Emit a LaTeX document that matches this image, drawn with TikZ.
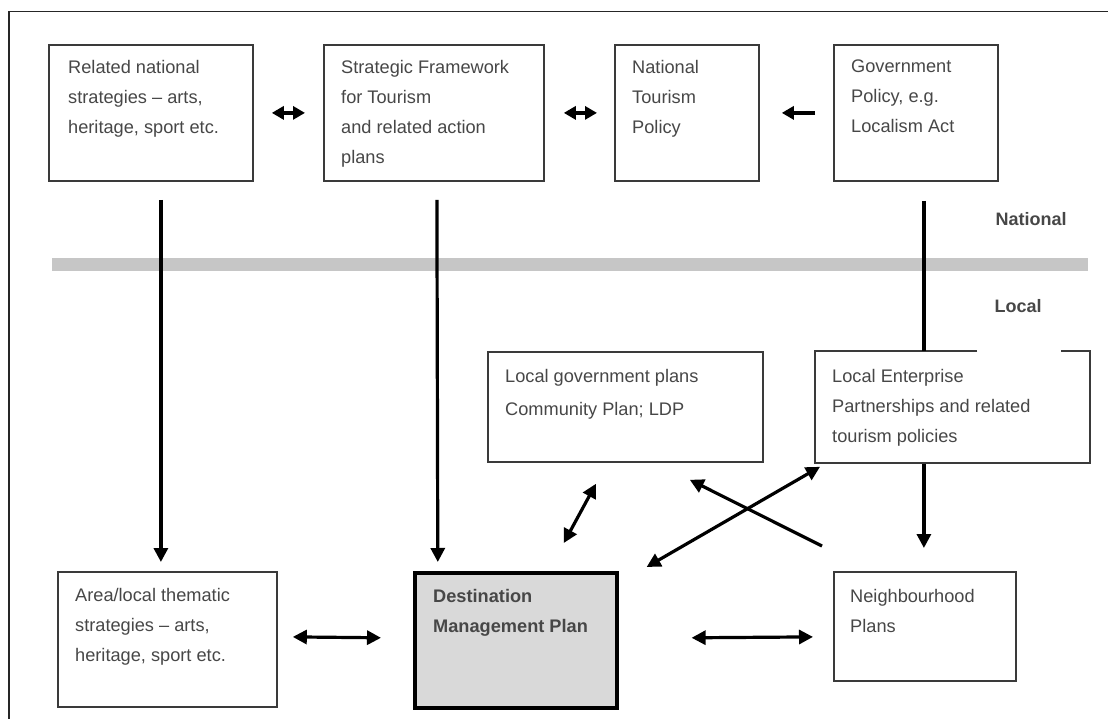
\documentclass[tikz,border=0pt]{standalone}
\usepackage{fontspec}
\setmainfont{Liberation Sans}
\usetikzlibrary{arrows.meta,calc}
\definecolor{txtgray}{HTML}{474747}
\definecolor{linegray}{HTML}{3A3A3A}
\definecolor{bandgray}{HTML}{C6C6C6}
\definecolor{dmpfill}{HTML}{D9D9D9}
\begin{document}
\begin{tikzpicture}[x=1pt,y=-1pt,
  box/.style={draw=linegray, line width=1.8pt, anchor=north west, inner sep=0pt},
  txt/.style={anchor=north west, align=left, inner sep=0pt, text=txtgray,
    font=\fontsize{18.2}{30}\selectfont},
  lvl/.style={inner sep=0pt, text=txtgray, font=\fontsize{18}{22}\selectfont\bfseries},
  tip/.tip={Triangle[length=14pt,width=14pt]},
  arr/.style={line width=3.2pt, -tip},
  darr/.style={line width=3.2pt, tip-tip},
  plain/.style={line width=3.2pt},
  stip/.tip={Triangle[length=12pt,width=13pt]},
  sdarr/.style={line width=3.4pt, stip-stip},
  sarr/.style={line width=3.4pt, -stip}]
\useasboundingbox (0,0) rectangle (1108,719);
\fill[white] (0,0) rectangle (1108,719);
% outer frame
\draw[line width=1.3pt, black!85] (9,719) -- (9,11.5) -- (1108,11.5);

% national level
\node[box, minimum width=204pt, minimum height=136pt] (rns) at (48,44) {};
\node[box, minimum width=220pt, minimum height=136pt] (sft) at (323,44) {};
\node[box, minimum width=144pt, minimum height=136pt] (ntp) at (614,44) {};
\node[box, minimum width=164pt, minimum height=136pt] (gov) at (833,44) {};
\node[txt] (rnsT) at ([xshift=20pt,yshift=-16pt]rns.north west) {Related national\\strategies – arts,\\heritage, sport etc.};
\node[txt] (sftT) at ([xshift=18pt,yshift=-16pt]sft.north west) {Strategic Framework\\for Tourism\\and related action\\plans};
\node[txt] (ntpT) at ([xshift=18pt,yshift=-16pt]ntp.north west) {National\\Tourism\\Policy};
\node[txt] (govT) at ([xshift=18pt,yshift=-16pt]gov.north west) {Government\\Policy, e.g.\\Localism Act};

\draw[sdarr] ($(rns.east)+(18,0)$) -- ($(sft.west)+(-18,0)$);
\draw[sdarr] ($(sft.east)+(19,0)$) -- ($(ntp.west)+(-17,0)$);
\draw[sarr] ($(gov.west)+(-18,0)$) -- ($(ntp.east)+(22,0)$);

% national / local divide
\fill[bandgray] (52,258) rectangle (1088,271);
\node[lvl] (natl) at (1031,219) {National};
\node[lvl] (locl) at (1018,306) {Local};

% local level
\node[box, minimum width=275pt, minimum height=110pt] (lgp) at (487,351) {};
\node[box, draw=none, minimum width=273pt, minimum height=110pt] (lep) at (815,351) {};
\draw[draw=linegray, line width=1.8pt]
  ($(lep.north west)+(162,0)$) -- (lep.north west) -- (lep.south west)
  -- (lep.south east) -- (lep.north east) -- ($(lep.north east)+(-29,0)$);
\node[txt] (lgpT) at ([xshift=18pt,yshift=-18pt]lgp.north west) {Local government plans\\[3pt]Community Plan; LDP};
\node[txt] (lepT) at ([xshift=17pt,yshift=-18pt]lep.north west) {Local Enterprise\\Partnerships and related\\tourism policies};

\node[box, minimum width=219pt, minimum height=135pt] (area) at (57,571) {};
\node[box, draw=black, fill=dmpfill, line width=3.6pt, minimum width=202pt, minimum height=135pt] (dmp) at (413,571) {};
\node[box, minimum width=182pt, minimum height=109pt] (nbh) at (833,571) {};
\node[txt] (areaT) at ([xshift=18pt,yshift=-17pt]area.north west) {Area/local thematic\\strategies – arts,\\heritage, sport etc.};
\node[txt, font=\fontsize{18.2}{30}\selectfont\bfseries] (dmpT) at ([xshift=20pt,yshift=-18pt]dmp.north west) {Destination\\Management Plan};
\node[txt] (nbhT) at ([xshift=17pt,yshift=-18pt]nbh.north west) {Neighbourhood\\Plans};

% flows between levels
\draw[arr] ($(rns.south)+(10,18)$) -- ($(area.north)+(-6.5,-9)$);
\draw[arr] ($(sft.south)+(3,18)$) -- ($(dmp.north)+(-78,-9)$);
\draw[plain] ($(gov.south)+(8,19)$) -- ($(lep.north)+(-28.5,0)$);
\draw[arr] ($(lep.south)+(-28.5,1)$) -- ($(nbh.north)+(-1,-23)$);

\draw[darr] ($(lgp.south)+(-29.5,21)$) -- ($(dmp.north)+(48,-28)$);
\draw[darr] ($(lep.south west)+(5,4)$) -- ($(dmp.north east)+(28,-4)$);
\draw[arr] ($(nbh.north west)+(-11,-25)$) -- ($(lgp.south east)+(-74,17)$);

\draw[darr] ($(area.east)+(15,-2.5)$) -- ($(dmp.west)+(-32,-2.5)$);
\draw[darr] ($(dmp.east)+(73,-2.5)$) -- ($(nbh.west)+(-20,10.5)$);
\end{tikzpicture}
\end{document}
